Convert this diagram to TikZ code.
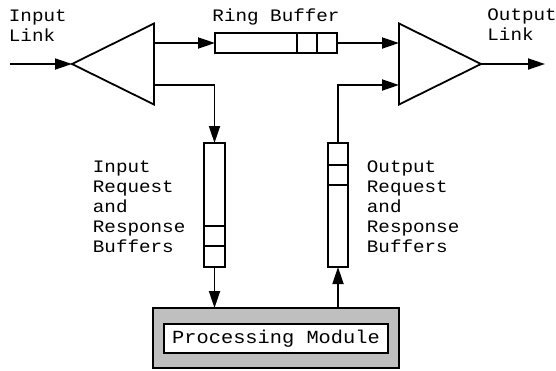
\documentclass[tikz,border=0pt]{standalone}
\usepackage{fontspec}
\newfontfamily\diagfont{Liberation Mono}[FakeStretch=1.1]
\usetikzlibrary{arrows.meta, positioning, shapes.geometric}

\begin{document}
\begin{tikzpicture}[
        x=1pt, y=-1pt,
        line width=1.8pt,
        font=\diagfont\fontsize{17.5}{20}\selectfont,
        amp/.style={isosceles triangle, isosceles triangle stretches, draw=black,
                    minimum width=81pt, minimum height=82pt, inner sep=0pt, outer sep=0pt},
        buffer/.style={rectangle, draw=black, fill=white, inner sep=0pt, outer sep=0pt},
        caption/.style={anchor=base west, align=left, inner sep=0pt},
        arrow/.style={-{Triangle[length=17pt, width=11pt]}}
    ]
        \useasboundingbox (0,0) rectangle (556,370);

        % link amplifiers
        \node[amp, shape border rotate=180, anchor=apex] (intri) at (72,64) {};
        \node[amp, shape border rotate=0, anchor=apex] (outtri) at (481,64) {};
        \coordinate (inlink) at (10,64);
        \coordinate (outlink) at (545,64);

        % buffers
        \node[buffer, minimum width=122pt, minimum height=20pt] (ring) at (276,43) {};
        \node[buffer, minimum width=21pt, minimum height=124pt] (inbuf) at (214.5,205) {};
        \node[buffer, minimum width=20pt, minimum height=124pt] (outbuf) at (338,205) {};
        \foreach \d in {20,40} {
            \draw ([xshift=-\d pt]ring.north east) -- ([xshift=-\d pt]ring.south east);
        }
        \foreach \d in {21,41} {
            \draw ([yshift=\d pt]inbuf.south west) -- ([yshift=\d pt]inbuf.south east);
        }
        \foreach \d in {22,42} {
            \draw ([yshift=-\d pt]outbuf.north west) -- ([yshift=-\d pt]outbuf.north east);
        }

        % processing module
        \node[rectangle, draw=black, fill=black!25, minimum width=246pt, minimum height=60pt,
              inner sep=0pt, outer sep=0pt] (proc) at (276,338) {};
        \node[buffer, minimum width=224pt, minimum height=29pt,
              font=\diagfont\fontsize{18.5}{20}\selectfont] (procname) at (276,338.5) {Processing Module};

        % labels (base = last line)
        \node[caption] (inlinklbl) at (8,41.5) {Input\\Link};
        \node[caption, anchor=base] (ringlbl) at (276,21) {Ring Buffer};
        \node[caption] (outlinklbl) at (486.5,40.5) {Output\\Link};
        \node[caption] (inbuflbl) at (92,252) {Input\\Request\\and\\Response\\Buffers};
        \node[caption] (outbuflbl) at (366,252) {Output\\Request\\and\\Response\\Buffers};

        % connectors
        \draw[arrow] (inlink) -- (intri.apex);
        \draw[arrow] ([yshift=21pt]intri.lower side) -- (ring.west);
        \draw[arrow] ([yshift=-21pt]intri.lower side) -| (inbuf.north);
        \draw[arrow] (inbuf.south) -- (inbuf.south |- proc.north);
        \draw[arrow] (outbuf.south |- proc.north) -- (outbuf.south);
        \draw[arrow] (outbuf.north) |- ([yshift=-21pt]outtri.lower side);
        \draw[arrow] (ring.east) -- (ring.east -| outtri.lower side);
        \draw[arrow] (outtri.apex) -- (outlink);
    \end{tikzpicture}
\end{document}
